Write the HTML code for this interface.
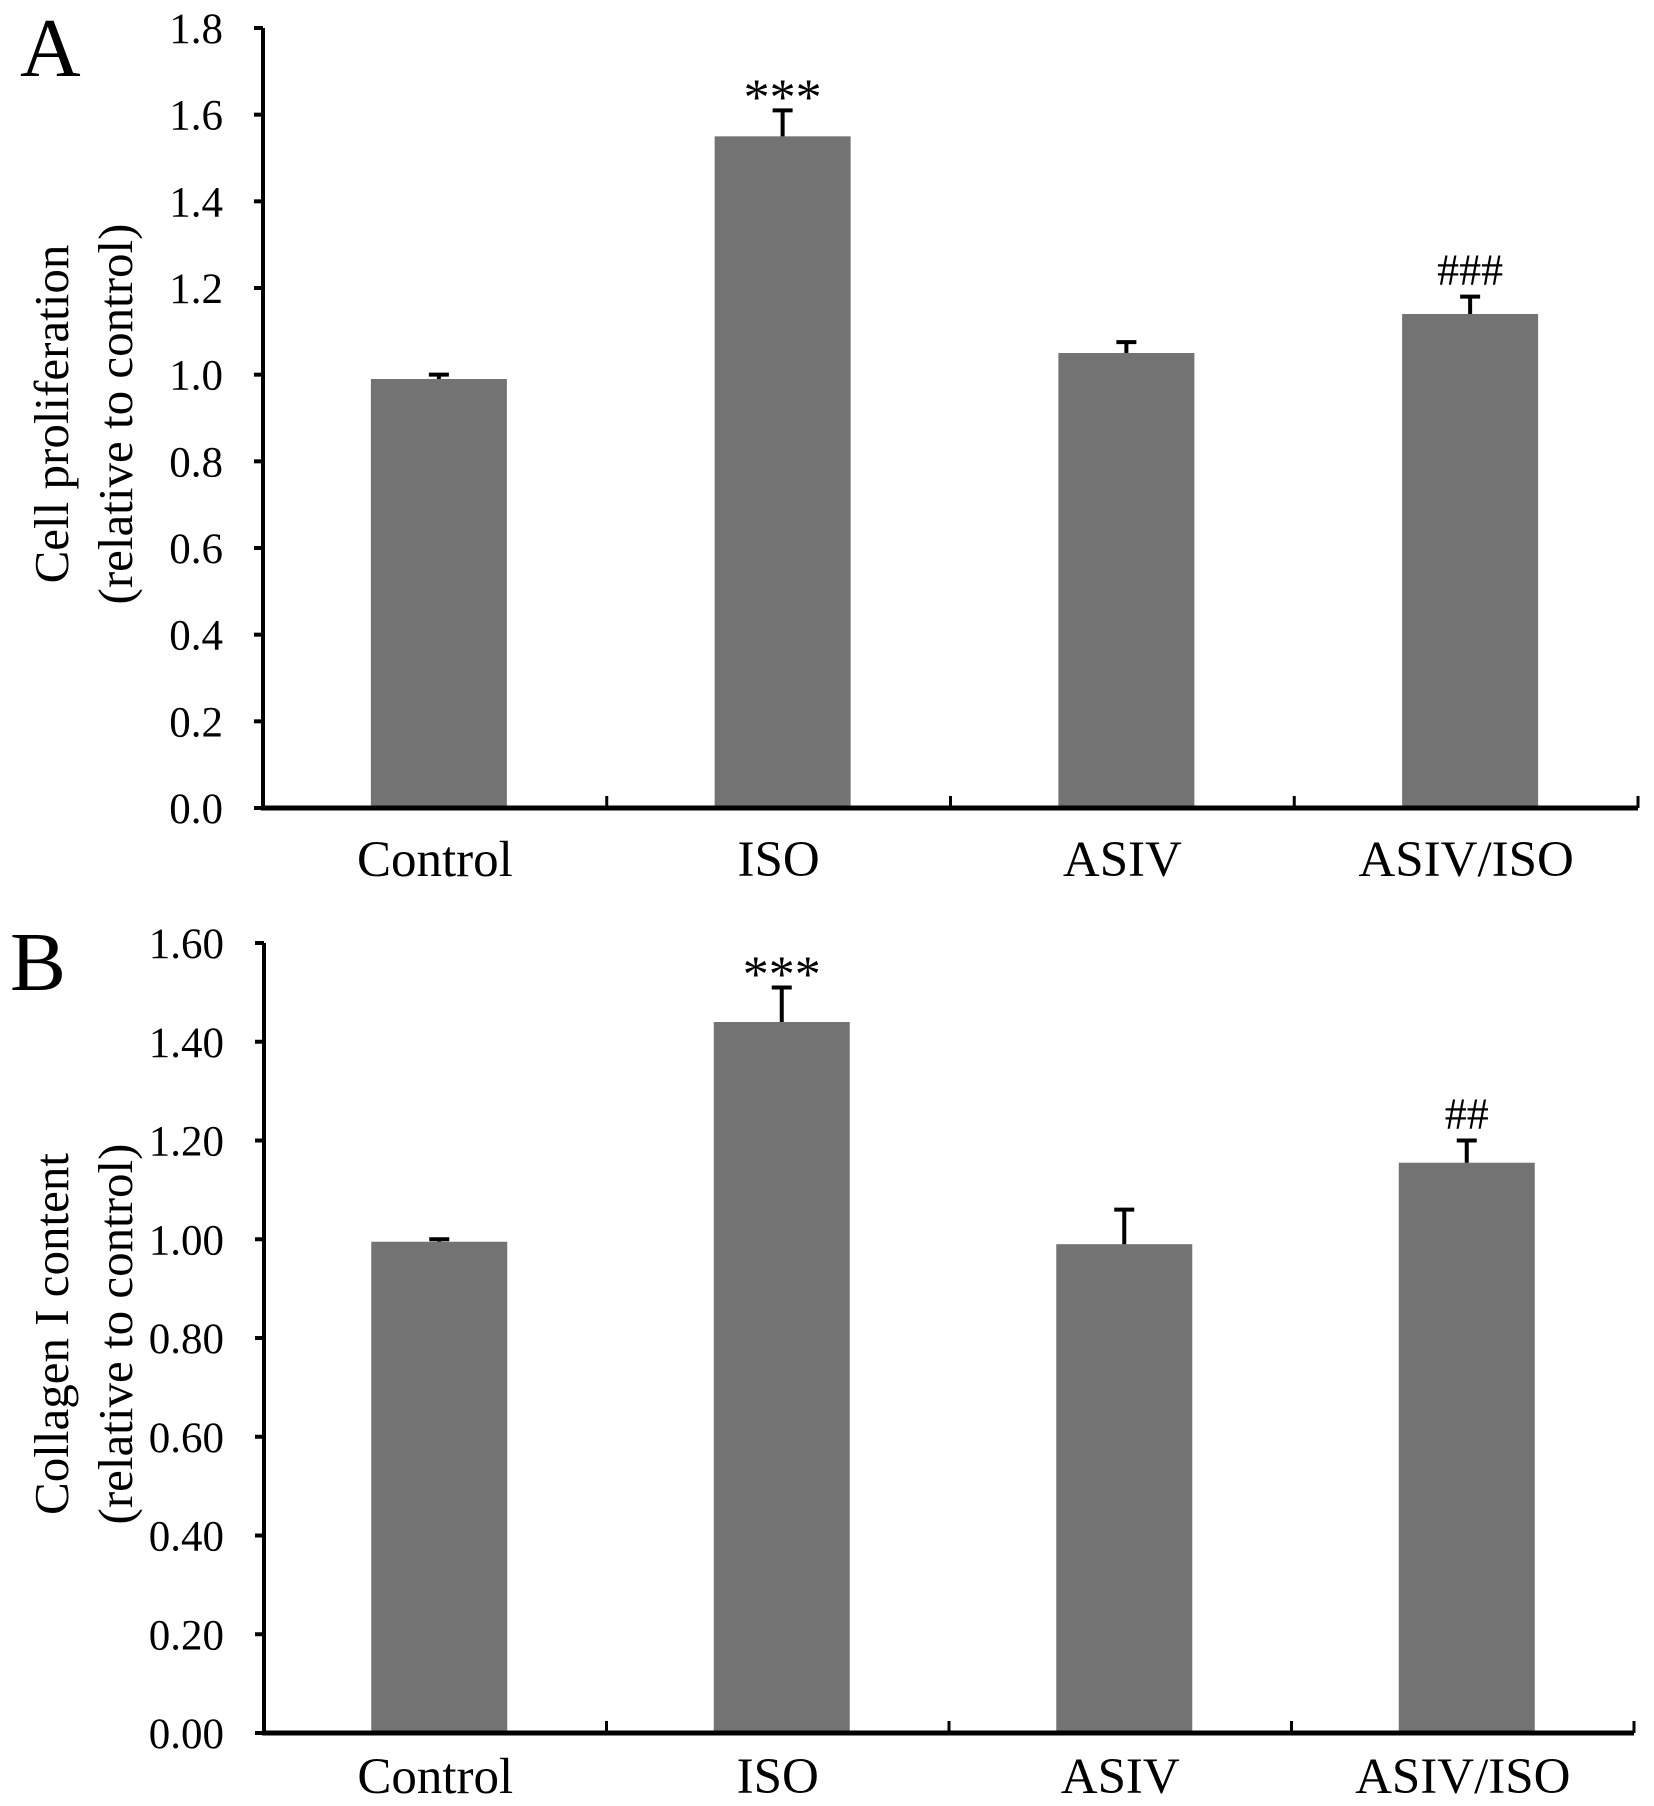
<!DOCTYPE html>
<html><head><meta charset="utf-8"><style>
html,body{margin:0;padding:0;background:#fff;}
svg{display:block;font-family:"Liberation Serif",serif;}
</style></head><body>
<svg id="fig" width="1654" height="1806" viewBox="0 0 1654 1806"></svg>
<script>
const categories = ["Control","ISO","ASIV","ASIV/ISO"];
const valuesA = [0.99, 1.55, 1.05, 1.14];
const errorsA = [0.01, 0.06, 0.025, 0.04];
const ticksA = [0.0,0.2,0.4,0.6,0.8,1.0,1.2,1.4,1.6,1.8];
const tickLabelsA = ["0.0","0.2","0.4","0.6","0.8","1.0","1.2","1.4","1.6","1.8"];
const annotA = ["","***","","###"];
const valuesB = [0.995, 1.44, 0.99, 1.155];
const errorsB = [0.005, 0.07, 0.07, 0.045];
const ticksB = [0,0.2,0.4,0.6,0.8,1.0,1.2,1.4,1.6];
const tickLabelsB = ["0.00","0.20","0.40","0.60","0.80","1.00","1.20","1.40","1.60"];
const annotB = ["","***","","##"];

const NS="http://www.w3.org/2000/svg";
const svg=document.getElementById('fig');
function mk(tag,attrs,parent){const e=document.createElementNS(NS,tag);for(const k in attrs)e.setAttribute(k,attrs[k]);(parent||svg).appendChild(e);return e;}

function panel(cfg){
  const g=mk('g',{});
  
  
  const y=v=>cfg.y0-(v-0)/(cfg.ymax)*(cfg.y0-cfg.ytop);
  const bw=(cfg.x1-cfg.x0)/categories.length;
  const x=i=>cfg.x0+bw*(i+0.5)+4;
  categories.forEach((c,i)=>{
    const v=cfg.values[i], e=cfg.errors[i];
    const r=mk('rect',{x:x(i)-68,y:y(v),width:136,height:cfg.y0-y(v),fill:'#737373'},g);
    
    
    const eb=mk('path',{d:`M${x(i)} ${y(v)} V${y(v+e)} M${x(i)-10} ${y(v+e)} H${x(i)+10}`,stroke:'#000','stroke-width':4,fill:'none'},g);
    
    
    if(cfg.annot[i]){
      const star=cfg.annot[i][0]==='*';
      const t=mk('text',{x:x(i),y:y(v+e)-(star?-4:12),'font-size':star?52:44,'text-anchor':'middle',fill:'#000'},g);
      t.textContent=cfg.annot[i];
      
      
    }
    const lb=mk('text',{x:x(i)-4,y:cfg.y0+cfg.labOff,'font-size':51,'text-anchor':'middle',fill:'#000'},g);
    lb.textContent=c;
    
    
  });
  const ya=mk('line',{x1:cfg.x0,y1:cfg.ytop,x2:cfg.x0,y2:cfg.y0,stroke:'#000','stroke-width':4},g);
  
  
  const xa=mk('line',{x1:cfg.x0-2,y1:cfg.y0,x2:cfg.x1,y2:cfg.y0,stroke:'#000','stroke-width':5},g);
  
  
  for(let k=1;k<=categories.length;k++){
    const xx=cfg.x0+bw*k;
    const tk=mk('line',{x1:xx,y1:cfg.y0,x2:xx,y2:cfg.y0-12,stroke:'#000','stroke-width':3},g);
    
    
  }
  cfg.ticks.forEach((t,i)=>{
    const tk=mk('line',{x1:cfg.x0-9,y1:y(t),x2:cfg.x0,y2:y(t),stroke:'#000','stroke-width':4},g);
    
    
    const tl=mk('text',{x:cfg.x0-40,y:y(t)+15,'font-size':43,'text-anchor':'end',fill:'#000'},g);
    tl.textContent=cfg.tickLabels[i];
    
    
  });
  const cy=(cfg.ytop+cfg.y0)/2-4;
  const t1=mk('text',{x:0,y:0,'font-size':49,'text-anchor':'middle',transform:`translate(68 ${cy}) rotate(-90)`,fill:'#000'},g);
  t1.textContent=cfg.title1;
  
  
  const t2=mk('text',{x:0,y:0,'font-size':49,'text-anchor':'middle',transform:`translate(132 ${cy}) rotate(-90)`,fill:'#000'},g);
  t2.textContent="(relative to control)";
  
  
  const pl=mk('text',{x:cfg.lx,y:cfg.ly,'font-size':84,fill:'#000'},g);
  pl.textContent=cfg.letter;
  
  
}
panel({name:'panel-a',x0:263,x1:1638,y0:808,ytop:28,ymax:1.8,labOff:68,values:valuesA,errors:errorsA,ticks:ticksA,tickLabels:tickLabelsA,annot:annotA,title1:"Cell proliferation",letter:"A",lx:20,ly:76});
panel({name:'panel-b',x0:264,x1:1634,y0:1733,ytop:943,ymax:1.6,labOff:60,values:valuesB,errors:errorsB,ticks:ticksB,tickLabels:tickLabelsB,annot:annotB,title1:"Collagen I content",letter:"B",lx:10,ly:990});
</script>
</body></html>
